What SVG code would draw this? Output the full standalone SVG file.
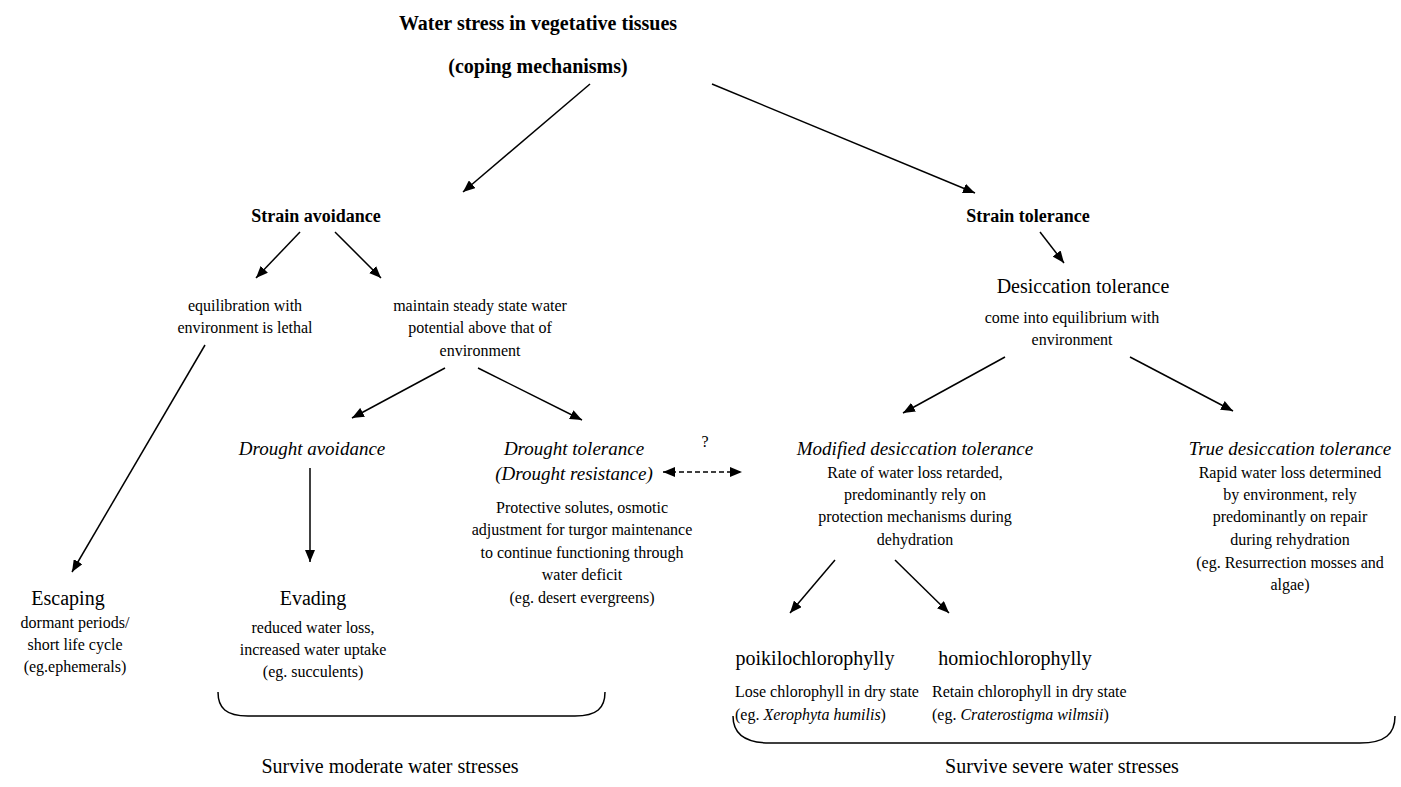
<svg xmlns="http://www.w3.org/2000/svg" width="1401" height="787" viewBox="0 0 1401 787">
<defs>
<marker id="ah" markerWidth="12" markerHeight="10" refX="12" refY="5" orient="auto" markerUnits="userSpaceOnUse" viewBox="0 0 12 10">
<path d="M0,0 L12,5 L0,10 z" fill="#000"/>
</marker>
<marker id="ahs" markerWidth="12" markerHeight="10" refX="0" refY="5" orient="auto" markerUnits="userSpaceOnUse" viewBox="0 0 12 10">
<path d="M12,0 L0,5 L12,10 z" fill="#000"/>
</marker>
<style>
text{fill:#000;text-anchor:middle}
.tt{font-weight:bold;font-size:20px}
.b{font-weight:bold;font-size:18px}
.h{font-size:20px}
.i{font-style:italic;font-size:19px}
.t{font-size:16px}
.l{text-anchor:start}
.c line,.c path{stroke:#000;stroke-width:1.5;fill:none}
.a{marker-end:url(#ah)}
</style>
</defs>
<rect width="1401" height="787" fill="#fff"/>
<g font-family="'Liberation Serif', 'DejaVu Serif', serif">
<g id="title">
<text class="tt" x="538" y="30">Water stress in vegetative tissues</text>
<text class="tt" x="538" y="73">(coping mechanisms)</text>
</g>
<g id="strain-avoidance"><text class="b" x="316" y="222">Strain avoidance</text></g>
<g id="strain-tolerance"><text class="b" x="1028" y="222">Strain tolerance</text></g>
<g id="equilibration">
<text class="t" x="245" y="311">equilibration with</text>
<text class="t" x="245" y="333">environment is lethal</text>
</g>
<g id="maintain">
<text class="t" x="480" y="311">maintain steady state water</text>
<text class="t" x="480" y="333">potential above that of</text>
<text class="t" x="480" y="356">environment</text>
</g>
<g id="desiccation-tolerance">
<text class="h" x="1083" y="293">Desiccation tolerance</text>
<text class="t" x="1072" y="323">come into equilibrium with</text>
<text class="t" x="1072" y="345">environment</text>
</g>
<g id="drought-avoidance"><text class="i" x="312" y="455">Drought avoidance</text></g>
<g id="drought-tolerance">
<text class="i" x="574" y="455">Drought tolerance</text>
<text class="i" x="574" y="480">(Drought resistance)</text>
<text class="t" x="582" y="513">Protective solutes, osmotic</text>
<text class="t" x="582" y="535">adjustment for turgor maintenance</text>
<text class="t" x="582" y="558">to continue functioning through</text>
<text class="t" x="582" y="580">water deficit</text>
<text class="t" x="582" y="603">(eg. desert evergreens)</text>
</g>
<g id="question"><text class="t" x="705" y="447">?</text></g>
<g id="modified-dt">
<text class="i" x="915" y="455">Modified desiccation tolerance</text>
<text class="t" x="915" y="478">Rate of water loss retarded,</text>
<text class="t" x="915" y="500">predominantly rely on</text>
<text class="t" x="915" y="522">protection mechanisms during</text>
<text class="t" x="915" y="545">dehydration</text>
</g>
<g id="true-dt">
<text class="i" x="1290" y="455">True desiccation tolerance</text>
<text class="t" x="1290" y="478">Rapid water loss determined</text>
<text class="t" x="1290" y="500">by environment, rely</text>
<text class="t" x="1290" y="522">predominantly on repair</text>
<text class="t" x="1290" y="545">during rehydration</text>
<text class="t" x="1290" y="568">(eg. Resurrection mosses and</text>
<text class="t" x="1290" y="590">algae)</text>
</g>
<g id="escaping">
<text class="h" x="68" y="605">Escaping</text>
<text class="t" x="75" y="628">dormant periods/</text>
<text class="t" x="75" y="650">short life cycle</text>
<text class="t" x="75" y="672">(eg.ephemerals)</text>
</g>
<g id="evading">
<text class="h" x="313" y="605">Evading</text>
<text class="t" x="313" y="633">reduced water loss,</text>
<text class="t" x="313" y="655">increased water uptake</text>
<text class="t" x="313" y="677">(eg. succulents)</text>
</g>
<g id="poikilochlorophylly">
<text class="h" x="815" y="665">poikilochlorophylly</text>
<text class="t l" x="735" y="697">Lose chlorophyll in dry state</text>
<text class="t l" x="735" y="720">(eg. <tspan font-style="italic">Xerophyta humilis</tspan>)</text>
</g>
<g id="homiochlorophylly">
<text class="h" x="1015" y="665">homiochlorophylly</text>
<text class="t l" x="932" y="697">Retain chlorophyll in dry state</text>
<text class="t l" x="932" y="720">(eg. <tspan font-style="italic">Craterostigma wilmsii</tspan>)</text>
</g>
<g id="moderate">
<text class="h" x="390" y="773">Survive moderate water stresses</text>
</g>
<g id="severe">
<text class="h" x="1062" y="773">Survive severe water stresses</text>
</g>
</g>
<g id="connectors" class="c">
<line class="a" x1="590" y1="84" x2="463" y2="192"/>
<line class="a" x1="712" y1="84" x2="975" y2="193"/>
<line class="a" x1="300" y1="232" x2="256" y2="278"/>
<line class="a" x1="335" y1="232" x2="381" y2="278"/>
<line class="a" x1="1040" y1="232" x2="1064" y2="263"/>
<line class="a" x1="205" y1="345" x2="72" y2="572"/>
<line class="a" x1="445" y1="368" x2="352" y2="418"/>
<line class="a" x1="478" y1="368" x2="582" y2="420"/>
<line class="a" x1="1005" y1="357" x2="903" y2="413"/>
<line class="a" x1="1130" y1="357" x2="1233" y2="411"/>
<line class="a" x1="310" y1="468" x2="310" y2="562"/>
<line class="a" x1="835" y1="560" x2="790" y2="613"/>
<line class="a" x1="895" y1="560" x2="949" y2="613"/>
<line x1="663" y1="472" x2="742" y2="472" stroke-dasharray="5,3" marker-start="url(#ahs)" marker-end="url(#ah)"/>
<path d="M218,692 C218,708 226,716 248,716 L575,716 C597,716 605,708 605,692"/>
<path d="M733,716 C733,734 745,743 770,743 L1360,743 C1385,743 1395,734 1395,716"/>
</g>
</svg>
